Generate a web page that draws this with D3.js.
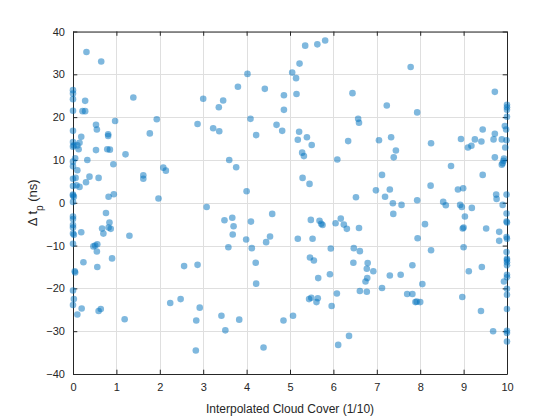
<!DOCTYPE html>
<html>
<head>
<meta charset="utf-8">
<script src="https://cdn.jsdelivr.net/npm/d3@7"></script>
<style>
  body { margin: 0; background: #fff; }
  svg text { font-family: "Liberation Sans", Arial, Helvetica, sans-serif; fill: #262626; }
</style>
</head>
<body>
<script>
// cloud cover (1/10) and delta t_p (ns)
var cloudCover = [
  0.31,0.65,0,0,0,0.28,1.39,0,0.22,0.28,1.93,0.97,0.53,0.55,0,1.77,0.81,0.81,0.19,0,0.15,0.02,0.1,0,0.13,0.53,0.79,0.85,1.21,0.05,0.33,0,0,0.93,2.08,2.14,0.1,1.62,1.62,0.38,0.59,0,0.06,0.3,0,0.08,0.15,0,0.02,0,0.82,0.94,1.97,0,
  0,0,0.76,0.84,0,0,0.67,0.87,0.82,0.19,0.70,0,0.02,1.30,0,0.56,0.47,0.51,0.55,0.90,0.24,0.56,0.04,0.05,0,0.02,0,2.24,0.2,0.64,0.59,0.1,1.19,
  4.02,3.80,4.42,3.0,3.46,3.36,4.09,2.87,4.69,3.23,3.37,4.22,4.82,3.60,3.76,4.0,3.08,
  3.49,3.67,3.70,4.10,4.59,3.68,3.99,4.54,4.45,3.58,4.12,2.56,2.87,4.21,4.22,2.48,2.92,2.84,3.42,3.83,3.51,4.39,2.83,
  5.35,5.63,5.81,5.22,5.05,5.14,4.86,5.15,6.44,4.86,7.23,6.57,6.59,5.21,5.39,5.18,5.50,6.34,7.05,7.33,5.28,5.32,6.09,7.12,5.29,5.45,6.98,6.52,7.19,7.30,
  5.48,5.68,5.75,5.72,6.05,6.17,6.24,6.31,6.59,5.18,5.52,5.94,6.47,6.61,5.46,5.55,6.46,6.79,6.77,6.92,5.92,5.65,6.78,6.74,7.30,6.08,6.61,6.77,7.12,5.44,5.49,5.64,5.61,5.96,5.07,4.85,6.36,6.11,
  7.78,9.72,7.93,9.44,9.72,8.94,9.26,9.41,9.69,8.25,7.44,9.10,9.18,7.39,9.72,8.71,9.44,8.24,8.87,8.99,7.37,7.57,7.93,8.53,8.59,8.92,8.96,9.19,9.75,9.76,
  9.03,7.38,8.11,8.98,9.0,9.52,7.94,8.25,9.0,7.82,7.55,9.12,9.42,8.05,7.70,7.82,7.89,8.0,7.92,8.97,9.40,9.68,
  10,10,10,10,9.95,9.98,9.88,9.99,9.96,9.93,9.92,9.90,9.88,9.99,9.90,9.99,9.99,10,9.82,9.99,10,9.82,9.99,10,10,10,10,10,10,9.93,10,10,10,10,10,10
];
var deltaTp = [
  35.2,33.0,26.3,25.5,24.2,23.8,24.6,21.5,21.4,21.4,19.5,19.1,18.2,17.1,16.8,16.2,16.0,15.6,15.4,14.2,14.0,13.4,13.4,13.1,12.5,12.3,12.5,12.4,11.3,10.4,10.0,9.6,8.5,9.0,8.2,7.5,7.6,6.4,5.6,6.1,5.8,5.6,5.8,4.8,3.9,4.1,3.7,1.9,1.4,1.7,1.4,2.0,1.0,0.2,
  -3.2,-3.8,-2.4,-4.6,-5.2,-5.8,-6.0,-6.1,-5.8,-6.9,-7.2,-7.2,-7.5,-7.7,-9.6,-9.7,-10.2,-10.0,-11.4,-13.0,-13.9,-15.0,-16.0,-16.3,-20.5,-22.5,-23.9,-23.4,-24.7,-24.8,-25.3,-26.1,-27.2,
  30.1,27.1,26.6,24.3,23.9,22.3,19.6,18.4,18.2,17.4,16.7,15.8,16.8,10.0,8.3,2.7,-1.0,
  -4.1,-3.5,-5.5,-4.4,-2.6,-7.4,-8.6,-7.9,-9.2,-10.4,-10.6,-14.8,-14.5,-14.0,-18.9,-22.5,-24.5,-27.5,-26.4,-27.3,-29.8,-33.8,-34.5,
  36.7,37.0,37.9,32.5,30.4,29.1,25.1,25.4,25.6,21.7,22.7,19.6,18.7,16.6,15.3,14.7,13.5,14.4,14.6,15.3,11.7,10.9,10.1,6.5,5.8,4.4,2.9,1.3,1.4,3.1,
  -4.0,-4.2,-5.2,-4.9,-4.8,-3.7,-5.1,-6.1,-5.9,-8.4,-8.4,-10.7,-10.6,-11.3,-12.8,-13.5,-14.0,-14.1,-15.4,-16.0,-16.7,-17.6,-17.6,-18.4,-17.0,-21.2,-20.6,-20.8,-19.9,-22.5,-22.2,-22.3,-23.2,-24.1,-26.4,-27.5,-31.1,-33.2,
  31.7,25.9,21.1,17.1,16.1,14.9,14.8,14.3,14.8,13.9,12.2,12.9,13.3,10.6,10.6,8.6,6.5,4.0,3.1,3.4,-0.1,-0.5,0.6,0.2,-0.6,-0.5,-1.0,-1.2,1.9,0.9,
  -3.2,-2.6,-5.0,-6.0,-5.8,-6.0,-8.3,-11.1,-10.4,-14.6,-16.8,-16.0,-15.0,-19.0,-21.3,-21.3,-23.2,-23.2,-23.1,-22.0,-25.3,-30.0,
  22.9,22.3,21.7,20.1,17.9,17.1,14.8,14.6,12.9,10.3,9.8,9.2,8.9,1.9,-0.5,-2.5,-4.4,-4.6,-6.8,-8.0,-8.4,-8.9,-11.5,-13.1,-13.4,-13.9,-14.6,-16.8,-17.4,-18.4,-20.1,-21.5,-24.8,-29.9,-30.4,-32.4
];
var xTicks = [0,1,2,3,4,5,6,7,8,9,10];
var yTicks = [-40,-30,-20,-10,0,10,20,30,40];

var width = 560;
var height = 420;
var plotLeft = 73, plotRight = 507, plotTop = 31.5, plotBottom = 374;

var svg = d3.select("body").append("svg")
  .attr("width", width)
  .attr("height", height);

var xScale = d3.scaleLinear().domain([0, 10]).range([plotLeft, plotRight]);
var yScale = d3.scaleLinear().domain([-40, 40]).range([plotBottom, plotTop]);

// grid
var grid = svg.append("g").attr("stroke", "#dfdfdf").attr("stroke-width", 1);
grid.selectAll(".gx").data(xTicks).enter().append("line")
  .attr("x1", d => Math.round(xScale(d)) + 0.5).attr("x2", d => Math.round(xScale(d)) + 0.5)
  .attr("y1", plotTop).attr("y2", plotBottom);
grid.selectAll(".gy").data(yTicks).enter().append("line")
  .attr("y1", d => Math.round(yScale(d)) + 0.5).attr("y2", d => Math.round(yScale(d)) + 0.5)
  .attr("x1", plotLeft).attr("x2", plotRight);

// axes (box on, ticks inward)
var tick = 4.3;
function styleAxis(g) {
  g.select(".domain").attr("stroke", "#262626");
  g.selectAll(".tick line").attr("stroke", "#262626");
  g.selectAll(".tick text").attr("fill", "#262626").style("font-size", "11px");
}
svg.append("g")
  .attr("transform", "translate(0," + plotBottom + ")")
  .call(d3.axisBottom(xScale).tickValues(xTicks).tickSizeInner(-tick).tickSizeOuter(0).tickPadding(9).tickFormat(d3.format("d")))
  .call(styleAxis);
svg.append("g")
  .attr("transform", "translate(0," + plotTop + ")")
  .call(d3.axisTop(xScale).tickValues(xTicks).tickSizeInner(-tick).tickSizeOuter(0).tickFormat(""))
  .call(styleAxis);
svg.append("g")
  .attr("transform", "translate(" + plotLeft + ",0)")
  .call(d3.axisLeft(yScale).tickValues(yTicks).tickSizeInner(-tick).tickSizeOuter(0).tickPadding(8).tickFormat(d3.format("d")))
  .call(styleAxis);
svg.append("g")
  .attr("transform", "translate(" + plotRight + ",0)")
  .call(d3.axisRight(yScale).tickValues(yTicks).tickSizeInner(-tick).tickSizeOuter(0).tickFormat(""))
  .call(styleAxis);

// points
svg.append("g").selectAll("circle")
  .data(cloudCover)
  .enter()
  .append("circle")
  .attr("cx", d => xScale(d))
  .attr("cy", (d, i) => yScale(deltaTp[i]))
  .attr("r", 3.3)
  .attr("fill", "#0072BD")
  .attr("fill-opacity", 0.5);

// labels
svg.append("text")
  .attr("x", (plotLeft + plotRight) / 2)
  .attr("y", 413)
  .attr("text-anchor", "middle")
  .style("font-size", "12px")
  .text("Interpolated Cloud Cover (1/10)");

var yLab = svg.append("text")
  .attr("transform", "translate(37," + ((plotTop + plotBottom) / 2) + ") rotate(-90)")
  .attr("text-anchor", "middle")
  .style("font-size", "13px");
yLab.append("tspan").text("\u0394 t");
yLab.append("tspan").attr("baseline-shift", "sub").style("font-size", "10px").text("p");
yLab.append("tspan").text(" (ns)");
</script>
</body>
</html>
